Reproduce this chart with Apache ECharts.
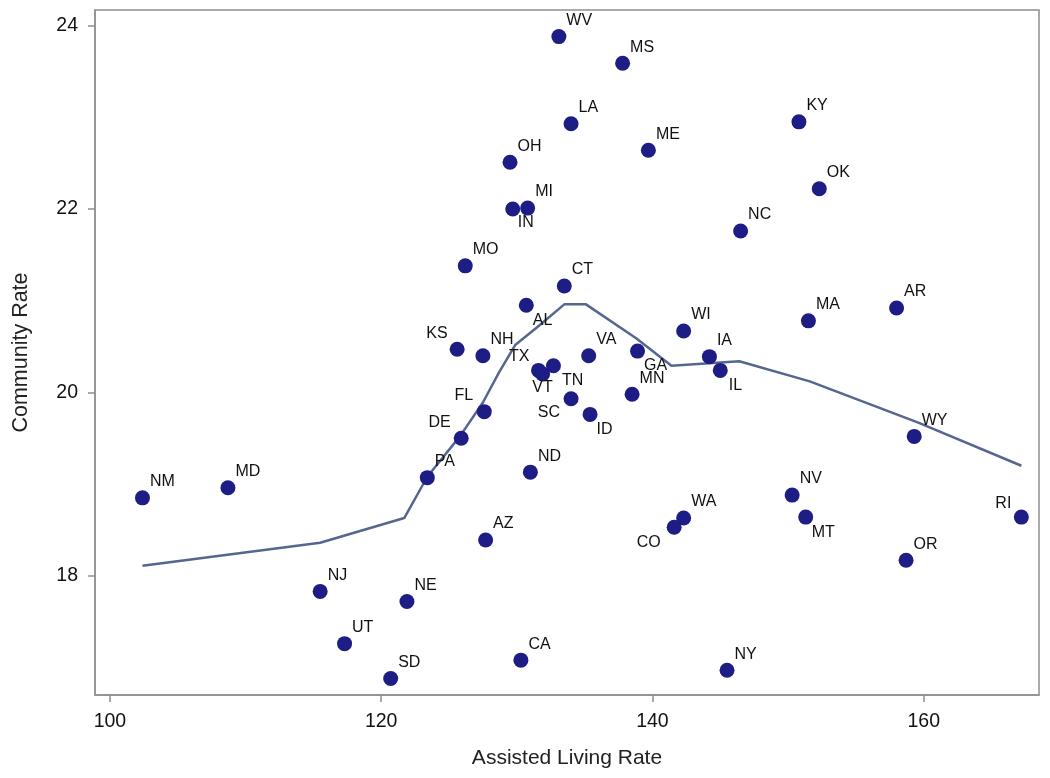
<!DOCTYPE html>
<html>
<head>
<meta charset="utf-8">
<script src="https://cdn.jsdelivr.net/npm/echarts@6/dist/echarts.min.js"></script>
<style>html,body{margin:0;padding:0;background:#fff}#c{width:1050px;height:778px}</style>
</head>
<body>
<div id="c"></div>
<script>
// ---- data ----
var states = ['WV','MS','LA','ME','OH','MI','IN','MO','KY','OK','NC','CT','AL','KS','NH','TX','VT','TN','SC','ID','VA','GA','MN','IA','IL','WI','MA','AR','WY','NV','MT','RI','OR','NY','WA','CO','ND','FL','DE','PA','AZ','NE','UT','SD','CA','NJ','NM','MD'];
var assistedLivingRate = [133.1,137.8,134.0,139.7,129.5,130.8,129.7,126.2,150.8,152.3,146.5,133.5,130.7,125.6,127.5,131.6,131.9,132.7,134.0,135.4,135.3,138.9,138.5,144.2,145.0,142.3,151.5,158.0,159.3,150.3,151.3,167.2,158.7,145.5,142.3,141.6,131.0,127.6,125.9,123.4,127.7,121.9,117.3,120.7,130.3,115.5,102.4,108.7];
var communityRate = [23.88,23.59,22.93,22.64,22.51,22.01,22.00,21.38,22.95,22.22,21.76,21.16,20.95,20.47,20.40,20.24,20.20,20.29,19.93,19.76,20.40,20.45,19.98,20.39,20.24,20.67,20.78,20.92,19.52,18.88,18.64,18.64,18.17,16.97,18.63,18.53,19.13,19.79,19.50,19.07,18.39,17.72,17.26,16.88,17.08,17.83,18.85,18.96];
// loess fit curve vertices
var fitX = [102.4,115.5,121.7,123.4,125.8,127.5,128.7,129.9,131.5,133.5,135.1,138.8,141.4,146.4,151.6,159.6,167.2];
var fitY = [18.11,18.36,18.63,19.08,19.52,19.89,20.22,20.52,20.71,20.96,20.96,20.59,20.29,20.34,20.12,19.67,19.20];
var xTicks = [100,120,140,160];
var yTicks = [18,20,22,24];

// label placement (style only): [position, offset]
var labelPlace = {
  IN:['right',[-2.5,14]], AL:['right',[-1,15]], TN:['right',[1,15]], ID:['right',[-1,15]],
  GA:['right',[-1,14]], IL:['right',[1,15]], MT:['right',[-1.5,15]],
  KS:['left',[-2,-16]], TX:['left',[-1.5,-14]], FL:['left',[-3.5,-16]], DE:['left',[-3,-16]], RI:['left',[-2.5,-14]],
  CO:['left',[-6,15]], SC:['left',[-3.5,14]],
  VT:['bottom',[0,-2]]
};
function labelFor(s){
  var p = labelPlace[s] || ['right',[0,-16]];
  return {position:p[0], distance:0, offset:p[1]};
}

var pts = states.map(function(s,i){
  return {value:[assistedLivingRate[i], communityRate[i]], name:s, label:labelFor(s)};
});
var fit = fitX.map(function(x,i){return [x, fitY[i]];});

var font = '"Liberation Sans", Arial, sans-serif';
var chart = echarts.init(document.getElementById('c'), null, {renderer:'canvas'});
chart.setOption({
  animation:false,
  backgroundColor:'#fff',
  grid:{left:95, top:10, right:11, bottom:83, containLabel:false, outerBoundsMode:'none',
        show:true, borderColor:'#8f8f8f', borderWidth:1.5, backgroundColor:'transparent'},
  xAxis:{
    type:'value', min:98.9, max:168.5,
    name:'Assisted Living Rate', nameLocation:'middle', nameGap:53,
    nameTextStyle:{fontFamily:font, fontSize:21, color:'#222'},
    axisLine:{show:true, onZero:false, lineStyle:{color:'#8f8f8f', width:1.5}},
    axisTick:{show:true, length:7, customValues:xTicks, lineStyle:{color:'#8f8f8f', width:1.5}},
    axisLabel:{customValues:xTicks, margin:17, fontFamily:font, fontSize:19.5, color:'#111'},
    splitLine:{show:false}
  },
  yAxis:{
    type:'value', min:16.7, max:24.17,
    name:'Community Rate', nameLocation:'middle', nameGap:63,
    nameTextStyle:{fontFamily:font, fontSize:21.5, color:'#222'},
    axisLine:{show:true, onZero:false, lineStyle:{color:'#8f8f8f', width:1.5}},
    axisTick:{show:true, length:7, customValues:yTicks, lineStyle:{color:'#8f8f8f', width:1.5}},
    axisLabel:{customValues:yTicks, margin:17, fontFamily:font, fontSize:19.5, color:'#111'},
    splitLine:{show:false}
  },
  series:[
    {
      type:'line', data:fit, showSymbol:false, symbol:'none', smooth:false,
      lineStyle:{color:'#56668f', width:2.5}, z:2, silent:true
    },
    {
      type:'scatter', data:pts, symbol:'circle', symbolSize:15,
      itemStyle:{color:'#1d1d85', opacity:1},
      label:{show:true, formatter:'{b}', fontFamily:font, fontSize:16, color:'#111'},
      z:3
    }
  ]
});
</script>
</body>
</html>
